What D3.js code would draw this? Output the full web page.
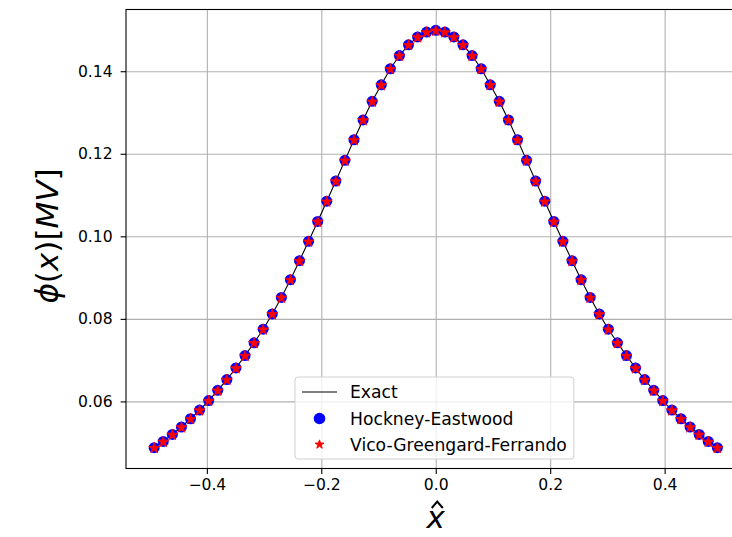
<!DOCTYPE html>
<html>
<head>
<meta charset="utf-8">
<script src="https://cdn.jsdelivr.net/npm/d3@7"></script>
<style>
  body { margin: 0; background: #fff; }
  svg { display: block; font-family: "DejaVu Sans", sans-serif; }
</style>
</head>
<body>
<div id="chart"></div>
<script>
// grid positions (cell centres) and potential values
const xHat = [
  -0.4921, -0.4762, -0.4603, -0.4444, -0.4286, -0.4127, -0.3968, -0.3810,
  -0.3651, -0.3492, -0.3333, -0.3175, -0.3016, -0.2857, -0.2698, -0.2540,
  -0.2381, -0.2222, -0.2063, -0.1905, -0.1746, -0.1587, -0.1429, -0.1270,
  -0.1111, -0.0952, -0.0794, -0.0635, -0.0476, -0.0317, -0.0159, 0.0,
  0.0159, 0.0317, 0.0476, 0.0635, 0.0794, 0.0952, 0.1111, 0.1270,
  0.1429, 0.1587, 0.1746, 0.1905, 0.2063, 0.2222, 0.2381, 0.2540,
  0.2698, 0.2857, 0.3016, 0.3175, 0.3333, 0.3492, 0.3651, 0.3810,
  0.3968, 0.4127, 0.4286, 0.4444, 0.4603, 0.4762, 0.4921
];
const phiExact = [
  0.0488, 0.0503, 0.0520, 0.0538, 0.0558, 0.0579, 0.0602, 0.0627,
  0.0653, 0.0681, 0.0711, 0.0742, 0.0775, 0.0812, 0.0852, 0.0895,
  0.0941, 0.0988, 0.1036, 0.1085, 0.1134, 0.1184, 0.1234, 0.1282,
  0.1327, 0.1367, 0.1406, 0.1438, 0.1464, 0.1483, 0.1495, 0.1499,
  0.1495, 0.1483, 0.1464, 0.1438, 0.1406, 0.1367, 0.1327, 0.1282,
  0.1234, 0.1184, 0.1134, 0.1085, 0.1036, 0.0988, 0.0941, 0.0895,
  0.0852, 0.0812, 0.0775, 0.0742, 0.0711, 0.0681, 0.0653, 0.0627,
  0.0602, 0.0579, 0.0558, 0.0538, 0.0520, 0.0503, 0.0488
];
// both solvers sit on the exact curve at this scale
const phiHockney = phiExact.slice();
const phiVico = phiExact.slice();

const xTicks = [-0.4, -0.2, 0.0, 0.2, 0.4];
const yTicks = [0.06, 0.08, 0.10, 0.12, 0.14];
const legendLabels = ['Exact', 'Hockney-Eastwood', 'Vico-Greengard-Ferrando'];

const width = 732, height = 537;
const plot = { left: 126, right: 745.5, top: 9.5, bottom: 468.5 };
const tickFont = 15.6, legendFont = 17.2, labelFont = 31;

const svg = d3.select('#chart').append('svg')
  .attr('width', width)
  .attr('height', height);

// matplotlib style 5% margins
function padded(vals) {
  const [lo, hi] = d3.extent(vals);
  const m = (hi - lo) * 0.05;
  return [lo - m, hi + m];
}

const x = d3.scaleLinear().domain(padded(xHat)).range([plot.left, plot.right]);
const y = d3.scaleLinear().domain(padded(phiExact)).range([plot.bottom, plot.top]);

const minus = d => d3.format('.1f')(d).replace('-', '\u2212');

// grid
svg.append('g')
  .attr('transform', `translate(0, ${plot.bottom})`)
  .call(d3.axisBottom(x).tickValues(xTicks).tickSize(-(plot.bottom - plot.top)).tickFormat(''))
  .call(g => g.select('.domain').remove())
  .selectAll('line').attr('stroke', '#b0b0b0').attr('stroke-width', 1.1);

svg.append('g')
  .attr('transform', `translate(${plot.left}, 0)`)
  .call(d3.axisLeft(y).tickValues(yTicks).tickSize(-(plot.right - plot.left)).tickFormat(''))
  .call(g => g.select('.domain').remove())
  .selectAll('line').attr('stroke', '#b0b0b0').attr('stroke-width', 1.1);

// exact curve
svg.append('path')
  .datum(xHat.map((d, i) => [d, phiExact[i]]))
  .attr('fill', 'none')
  .attr('stroke', '#000')
  .attr('stroke-width', 1.1)
  .attr('d', d3.line().x(d => x(d[0])).y(d => y(d[1])));

// Hockney-Eastwood markers
svg.append('g').selectAll('circle')
  .data(xHat.map((d, i) => [d, phiHockney[i]]))
  .join('circle')
  .attr('cx', d => x(d[0]))
  .attr('cy', d => y(d[1]))
  .attr('r', 5.5)
  .attr('fill', '#0000ff');

// Vico-Greengard-Ferrando markers
const star = d3.symbol().type(d3.symbolStar).size(38);
svg.append('g').selectAll('path')
  .data(xHat.map((d, i) => [d, phiVico[i]]))
  .join('path')
  .attr('transform', d => `translate(${x(d[0])}, ${y(d[1]) + 0.5})`)
  .attr('d', star)
  .attr('fill', '#ff0000')
  .attr('stroke', '#ff0000')
  .attr('stroke-width', 0.8);

// axes
const xAxis = svg.append('g')
  .attr('transform', `translate(0, ${plot.bottom})`)
  .call(d3.axisBottom(x).tickValues(xTicks).tickSize(5.4).tickPadding(5).tickFormat(minus));
const yAxis = svg.append('g')
  .attr('transform', `translate(${plot.left}, 0)`)
  .call(d3.axisLeft(y).tickValues(yTicks).tickSize(5.4).tickPadding(8).tickFormat(d3.format('.2f')));

[xAxis, yAxis].forEach(a => {
  a.select('.domain').remove();
  a.selectAll('line').attr('stroke', '#000').attr('stroke-width', 1.1);
  a.selectAll('text')
    .attr('fill', '#000')
    .style('font-family', '"DejaVu Sans", sans-serif')
    .style('font-size', tickFont + 'px');
});

// spines (right one falls outside the window)
svg.append('rect')
  .attr('x', plot.left).attr('y', plot.top)
  .attr('width', plot.right - plot.left).attr('height', plot.bottom - plot.top)
  .attr('fill', 'none').attr('stroke', '#000').attr('stroke-width', 1.1);

// axis labels
const yl = svg.append('text')
  .attr('transform', `translate(58, ${(plot.top + plot.bottom) / 2 - 3}) rotate(-90)`)
  .attr('text-anchor', 'middle')
  .style('font-size', labelFont + 'px');
yl.append('tspan').style('font-style', 'italic').text('\u03d5');
yl.append('tspan').text('(');
yl.append('tspan').style('font-style', 'italic').text('x');
yl.append('tspan').text(')[');
yl.append('tspan').style('font-style', 'italic').text('MV');
yl.append('tspan').text(']');

// x-hat: italic letter, the hat drawn as a small stroke like mathtext
const cx0 = x(0);
svg.append('text')
  .attr('x', cx0).attr('y', 528)
  .attr('text-anchor', 'middle')
  .style('font-size', labelFont + 'px')
  .style('font-style', 'italic')
  .text('x');
svg.append('path')
  .attr('d', `M${cx0 - 4},${508} L${cx0 + 1.5},${501.5} L${cx0 + 7},${508}`)
  .attr('fill', 'none')
  .attr('stroke', '#000')
  .attr('stroke-width', 2)
  .attr('stroke-linejoin', 'miter');

// legend
const lg = svg.append('g');
const box = lg.append('rect')
  .attr('fill', '#fff').attr('fill-opacity', 0.8)
  .attr('stroke', '#d0d0d0').attr('stroke-width', 1)
  .attr('rx', 3);
const rowY = [392, 418.5, 444.5];
const boxLeft = 295, textX = 350;
let maxW = 0;
legendLabels.forEach((lab, i) => {
  const t = lg.append('text')
    .attr('x', textX).attr('y', rowY[i])
    .attr('dy', '0.36em')
    .style('font-size', legendFont + 'px')
    .attr('fill', '#000')
    .text(lab);
  maxW = Math.max(maxW, t.node().getComputedTextLength());
});
lg.append('line')
  .attr('x1', 302).attr('x2', 337)
  .attr('y1', rowY[0]).attr('y2', rowY[0])
  .attr('stroke', '#000').attr('stroke-width', 1.1);
lg.append('circle')
  .attr('cx', 319.5).attr('cy', rowY[1]).attr('r', 5.8)
  .attr('fill', '#0000ff');
lg.append('path')
  .attr('transform', `translate(319.5, ${rowY[2]})`)
  .attr('d', d3.symbol().type(d3.symbolStar).size(24))
  .attr('fill', '#ff0000').attr('stroke', '#ff0000').attr('stroke-width', 1);
box.attr('x', boxLeft).attr('y', 377)
  .attr('width', textX + maxW + 7 - boxLeft)
  .attr('height', 82);
</script>
</body>
</html>
